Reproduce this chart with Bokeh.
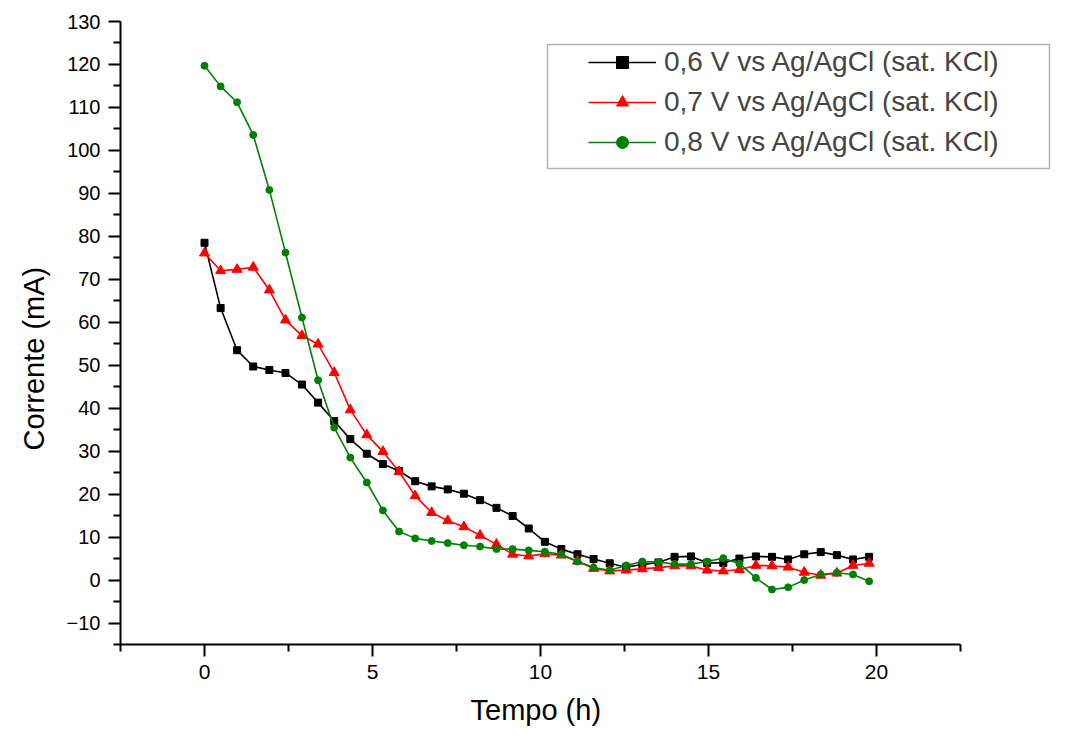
from bokeh.plotting import figure
from bokeh.models import Legend, LegendItem, FixedTicker, BoxAnnotation, ColumnDataSource, Title
from bokeh.embed import file_html
from bokeh.resources import INLINE

# ---- data ----
tempo_h = [0.00, 0.48, 0.97, 1.45, 1.93, 2.41, 2.90, 3.38, 3.86, 4.34,
           4.83, 5.31, 5.79, 6.27, 6.76, 7.24, 7.72, 8.20, 8.69, 9.17,
           9.65, 10.13, 10.62, 11.10, 11.58, 12.06, 12.55, 13.03, 13.51, 13.99,
           14.48, 14.96, 15.44, 15.92, 16.41, 16.89, 17.37, 17.85, 18.34, 18.82,
           19.30, 19.78]

corrente_06 = [78.5, 63.3, 53.5, 49.7, 48.9, 48.2, 45.5, 41.3, 37.0, 32.8,
               29.4, 27.0, 25.4, 23.0, 21.8, 21.1, 20.1, 18.6, 16.8, 14.9,
               12.0, 8.9, 7.2, 6.0, 4.9, 3.9, 3.0, 3.6, 4.1, 5.4,
               5.5, 4.0, 4.0, 5.0, 5.5, 5.4, 4.8, 6.0, 6.5, 5.8,
               4.8, 5.4]

corrente_07 = [76.1, 72.0, 72.3, 72.8, 67.5, 60.5, 56.9, 54.9, 48.3, 39.6,
               33.8, 29.9, 25.2, 19.6, 15.7, 13.8, 12.4, 10.4, 8.3, 6.0,
               5.6, 6.1, 5.8, 4.4, 2.7, 2.1, 2.3, 2.6, 2.9, 3.3,
               3.3, 2.3, 2.1, 2.4, 3.4, 3.3, 3.0, 1.8, 1.1, 1.6,
               3.4, 3.9]

corrente_08 = [119.7, 114.9, 111.2, 103.6, 90.8, 76.2, 61.1, 46.5, 35.5, 28.5,
               22.7, 16.2, 11.3, 9.7, 9.1, 8.6, 8.1, 7.8, 7.2, 7.2,
               6.9, 6.6, 6.0, 4.3, 2.9, 2.3, 3.4, 4.3, 4.2, 3.7,
               3.7, 4.3, 5.1, 3.8, 0.5, -2.2, -1.7, 0.0, 1.3, 1.7,
               1.3, -0.3]

series_labels = ["0,6 V vs Ag/AgCl (sat. KCl)",
                 "0,7 V vs Ag/AgCl (sat. KCl)",
                 "0,8 V vs Ag/AgCl (sat. KCl)"]
x_title = "Tempo (h)"
y_title = "Corrente (mA)"
x_major_ticks = [0, 5, 10, 15, 20]
x_minor_ticks = [-2.5, 2.5, 7.5, 12.5, 17.5, 22.5]
y_major_ticks = [-10, 0, 10, 20, 30, 40, 50, 60, 70, 80, 90, 100, 110, 120, 130]
y_minor_ticks = [-15, -5, 5, 15, 25, 35, 45, 55, 65, 75, 85, 95, 105, 115, 125]

FONT = "Liberation Sans"

# frame spans to the right edge so the legend is not clipped;
# the x axis itself is bounded to -2.5 .. 22.5 as in the reference
p = figure(width=1065, height=742, x_range=(-2.5, 25.625), y_range=(-15, 130),
           output_backend="svg", toolbar_location=None,
           min_border_left=120, min_border_right=0,
           min_border_top=21, min_border_bottom=98)
p.outline_line_color = None
p.grid.visible = False
p.background_fill_color = "white"
p.border_fill_color = "white"

src = ColumnDataSource(dict(t=tempo_h, a=corrente_06, b=corrente_07, c=corrente_08))

styles = [("a", "black", "square", 7),
          ("b", "#ff0000", "triangle", 10),
          ("c", "#008000", "circle", 7)]
items = []
for (col, color, marker, size), lab in zip(styles, series_labels):
    ln = p.line("t", col, source=src, line_color=color, line_width=1.6)
    sc = p.scatter("t", col, source=src, marker=marker, size=size,
                   fill_color=color, line_color=color)
    items.append(LegendItem(label=lab, renderers=[ln, sc]))

# axes
for ax in (p.xaxis[0], p.yaxis[0]):
    ax.axis_line_width = 2
    ax.axis_line_color = "black"
    ax.major_tick_line_width = 2
    ax.minor_tick_line_width = 2
    ax.major_tick_out = 12
    ax.major_tick_in = 0
    ax.minor_tick_out = 7
    ax.minor_tick_in = 0
    ax.major_label_text_font = FONT
    ax.major_label_text_color = "black"
    ax.major_label_standoff = 8

p.xaxis.major_label_text_font_size = "21px"
p.yaxis.major_label_text_font_size = "20px"
p.xaxis.bounds = (-2.5, 22.5)
p.xaxis.ticker = FixedTicker(ticks=x_major_ticks, minor_ticks=x_minor_ticks)
p.yaxis.ticker = FixedTicker(ticks=y_major_ticks, minor_ticks=y_minor_ticks)

# axis titles (placed as side titles so they can be centred like the reference)
xt = Title(text=x_title, align="left", offset=350, standoff=20,
           text_font=FONT, text_font_size="29px", text_font_style="normal",
           text_color="black", text_line_height=1.0)
p.add_layout(xt, "below")
yt = Title(text=y_title, align="left", offset=194, standoff=24,
           vertical_align="top",
           text_font=FONT, text_font_size="29px", text_font_style="normal",
           text_color="black", text_line_height=1.0)
p.add_layout(yt, "left")

legend = Legend(items=items, location=(458, 476),
                label_text_font=FONT, label_text_font_size="28px",
                glyph_width=68, glyph_height=30, label_height=30,
                spacing=8, padding=10, label_standoff=8, margin=0,
                border_line_alpha=0, background_fill_alpha=0)
p.add_layout(legend)

frame_box = BoxAnnotation(left=427, right=929, top=600, bottom=476,
                          left_units="screen", right_units="screen",
                          top_units="screen", bottom_units="screen",
                          fill_alpha=0, line_color="black", line_width=1.5)
p.add_layout(frame_box)

open("out.html", "w").write(file_html(p, INLINE))
